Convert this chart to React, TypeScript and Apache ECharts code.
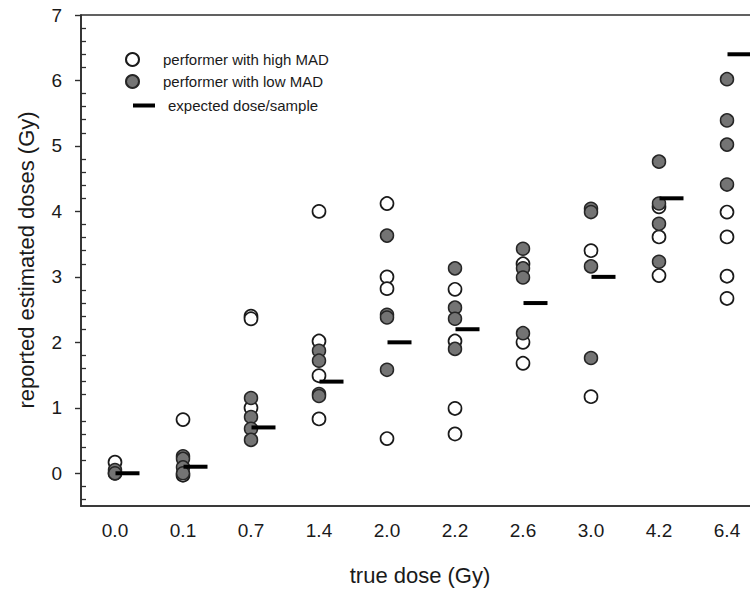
import React, { useEffect, useRef } from 'react';
import * as echarts from 'echarts';

// x categories: true dose (Gy)
const categories = ['0.0', '0.1', '0.7', '1.4', '2.0', '2.2', '2.6', '3.0', '4.2', '6.4'];

// expected dose per sample
const expectedDose = [0.0, 0.1, 0.7, 1.4, 2.0, 2.2, 2.6, 3.0, 4.2, 6.4];

// performers with high MAD (open circles), one list per category
const highMAD = [
  [0.17, 0.0],
  [0.82, -0.03],
  [2.4, 2.36, 1.0],
  [4.0, 2.02, 1.49, 0.83],
  [4.12, 3.0, 2.82, 0.53],
  [2.81, 2.02, 0.99, 0.6],
  [3.2, 2.0, 1.68],
  [3.4, 1.17],
  [4.07, 3.61, 3.02],
  [3.99, 3.61, 3.01, 2.67],
];

// performers with low MAD (grey filled circles)
const lowMAD = [
  [0.05, 0.0],
  [0.26, 0.22, 0.09, 0.0],
  [1.15, 0.86, 0.68, 0.51],
  [1.87, 1.72, 1.21, 1.18],
  [3.63, 2.42, 2.38, 1.58],
  [3.13, 2.53, 2.36, 1.9],
  [3.43, 3.13, 2.99, 2.14],
  [4.04, 3.99, 3.16, 1.76],
  [4.76, 4.12, 3.81, 3.23],
  [6.02, 5.39, 5.02, 4.41],
];

// y axis range and tick positions (every 0.1 from -0.5 to 7.0)
const yMin = -0.5;
const yMax = 7;
const yTickPositions = Array.from({ length: 76 }, (_, i) => ((i - 5) / 10).toFixed(1));
const isMajor = (i: number) => i % 10 === 5;
const isMinor = (i: number) => i % 2 === 1 && i % 10 !== 5;

const FONT = "'Liberation Sans', Arial, Helvetica, sans-serif";
const AXIS = '#2e2e2e';
const TEXT = '#1a1a1a';

const GRID_LEFT = 81;
const GRID_RIGHT = -11;
const CHART_W = 750;
const GRID_W = CHART_W - GRID_LEFT - GRID_RIGHT;

const flatten = (groups: number[][]) =>
  groups.flatMap((vals, ci) => vals.map((v) => [categories[ci], v]));

export default function App() {
  const ref = useRef<HTMLDivElement>(null);

  useEffect(() => {
    if (!ref.current) return;
    const chart = echarts.init(ref.current, undefined, { renderer: 'svg' });

    const legendBase = {
      orient: 'vertical',
      selectedMode: false,
      padding: 0,
      textStyle: { fontSize: 15, fontFamily: FONT, color: TEXT },
    };

    chart.setOption({
      animation: false,
      backgroundColor: '#ffffff',
      grid: {
        left: GRID_LEFT,
        right: GRID_RIGHT,
        top: 15,
        bottom: 87,
        outerBoundsMode: 'none',
        containLabel: false,
        show: true,
        borderColor: AXIS,
        borderWidth: 1.6,
        backgroundColor: 'transparent',
      },
      legend: [
        {
          ...legendBase,
          data: [{ name: 'performer with high MAD', icon: 'circle' }],
          left: 125,
          top: 52,
          itemWidth: 13,
          itemHeight: 13,
          textStyle: { ...legendBase.textStyle, padding: [0, 0, 0, 19] },
        },
        {
          ...legendBase,
          data: [{ name: 'performer with low MAD', icon: 'circle' }],
          left: 125,
          top: 74,
          itemWidth: 13,
          itemHeight: 13,
          textStyle: { ...legendBase.textStyle, padding: [0, 0, 0, 19] },
        },
        {
          ...legendBase,
          data: [{ name: 'expected dose/sample', icon: 'rect' }],
          left: 133,
          top: 98,
          itemWidth: 22,
          itemHeight: 4,
          textStyle: { ...legendBase.textStyle, padding: [0, 0, 0, 8] },
        },
      ],
      xAxis: {
        type: 'category',
        data: categories,
        axisLine: { onZero: false, lineStyle: { color: AXIS, width: 1.6 } },
        axisTick: { alignWithLabel: true, length: 6, lineStyle: { color: AXIS, width: 1.4 } },
        axisLabel: { fontSize: 19, margin: 15, color: TEXT, fontFamily: FONT },
        splitLine: { show: false },
      },
      yAxis: [
        { type: 'value', min: yMin, max: yMax, show: false },
        {
          type: 'category',
          data: yTickPositions,
          boundaryGap: false,
          position: 'left',
          axisLine: { show: true, onZero: false, lineStyle: { color: AXIS, width: 1.6 } },
          axisTick: {
            show: true,
            interval: (i: number) => isMajor(i),
            length: 6,
            lineStyle: { color: AXIS, width: 1.4 },
          },
          axisLabel: {
            interval: (i: number) => isMajor(i),
            formatter: (v: string) => String(Math.round(Number(v))),
            margin: 19,
            fontSize: 19,
            color: TEXT,
            fontFamily: FONT,
          },
          splitLine: { show: false },
        },
        {
          // minor ticks, placed on the left edge from the right side
          type: 'category',
          data: yTickPositions,
          boundaryGap: false,
          position: 'right',
          offset: -GRID_W,
          axisLine: { show: false, onZero: false },
          axisTick: {
            show: true,
            inside: false,
            interval: (i: number) => isMinor(i),
            length: 5,
            lineStyle: { color: AXIS, width: 1.3 },
          },
          axisLabel: { show: false },
          splitLine: { show: false },
        },
      ],
      graphic: [
        {
          type: 'text',
          x: 26,
          y: 260,
          rotation: Math.PI / 2,
          style: {
            text: 'reported estimated doses (Gy)',
            fontSize: 22,
            fontFamily: FONT,
            fill: TEXT,
            align: 'center',
            verticalAlign: 'middle',
          },
        },
        {
          type: 'text',
          x: 420,
          y: 575,
          style: {
            text: 'true dose (Gy)',
            fontSize: 22,
            fontFamily: FONT,
            fill: TEXT,
            align: 'center',
            verticalAlign: 'middle',
          },
        },
      ],
      series: [
        {
          name: 'performer with high MAD',
          type: 'scatter',
          xAxisIndex: 0,
          yAxisIndex: 0,
          symbol: 'circle',
          symbolSize: 13,
          itemStyle: { color: '#ffffff', borderColor: '#1a1a1a', borderWidth: 1.7, opacity: 1 },
          data: flatten(highMAD),
          z: 3,
        },
        {
          name: 'performer with low MAD',
          type: 'scatter',
          xAxisIndex: 0,
          yAxisIndex: 0,
          symbol: 'circle',
          symbolSize: 13,
          itemStyle: { color: '#747474', borderColor: '#262626', borderWidth: 1.5, opacity: 1 },
          data: flatten(lowMAD),
          z: 4,
        },
        {
          name: 'expected dose/sample',
          type: 'scatter',
          xAxisIndex: 0,
          yAxisIndex: 0,
          symbol: 'rect',
          symbolSize: [24, 4],
          symbolOffset: [12.5, 0],
          itemStyle: { color: '#000000', opacity: 1 },
          data: expectedDose.map((v, i) => [categories[i], v]),
          z: 5,
        },
      ],
    });

    return () => chart.dispose();
  }, []);

  return (
    <div
      ref={ref}
      style={{ position: 'fixed', left: 0, top: 0, width: 750, height: 593, background: '#fff' }}
    />
  );
}
